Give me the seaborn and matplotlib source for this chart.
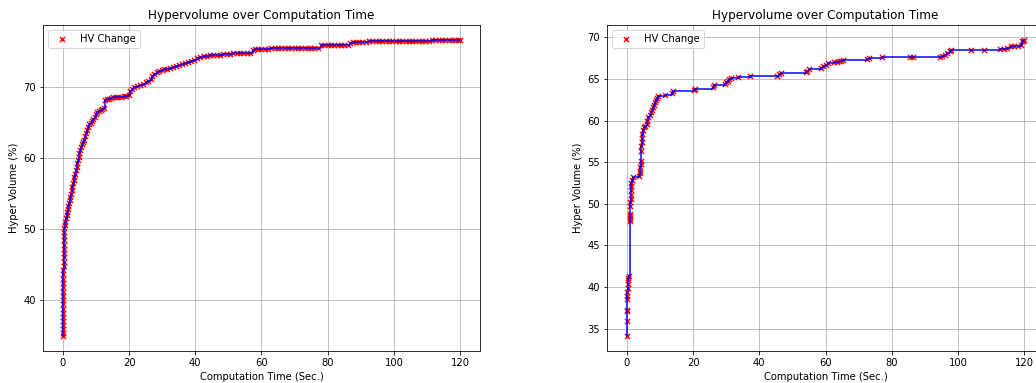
import pandas as pd
import seaborn as sns
import matplotlib.pyplot as plt

# run 1 (left panel): time in seconds, hypervolume in %
TIME_A = [0.00, 0.02, 0.03, 0.05, 0.06, 0.08, 0.09, 0.10, 0.11, 0.12,
          0.13, 0.14, 0.15, 0.16, 0.17, 0.18, 0.19, 0.20, 0.21, 0.22,
          0.24, 0.26, 0.28, 0.30, 0.33, 0.36, 0.40,
          0.5, 0.7, 0.9, 1.1, 1.3, 1.5, 1.7, 1.9, 2.1, 2.3, 2.5, 2.7, 2.9,
          3.1, 3.3, 3.5, 3.8, 4.0, 4.2, 4.4, 4.6, 4.8, 5.0, 5.3, 5.6, 5.9,
          6.2, 6.5, 6.8, 7.1, 7.4, 7.7, 8.0, 8.4, 8.8, 9.2, 9.6, 10.0,
          10.4, 10.9, 11.4, 11.9, 12.4, 12.7, 13.2, 13.8, 14.5, 15.2, 16.0,
          16.8, 17.6, 18.4, 19.2, 20.0, 20.4, 20.9, 21.5, 22.3, 23.2, 24.1,
          25.0, 25.8, 26.5, 27.0, 27.6, 28.3, 29.0, 29.8, 30.7, 31.6, 32.5,
          33.4, 34.3, 35.2, 36.1, 37.0, 37.9, 38.8, 39.7, 40.6, 41.5, 42.5,
          43.5, 44.5, 45.5, 46.5, 47.5, 48.5, 49.5, 50.5, 51.5, 52.5, 53.5,
          54.5, 55.5, 56.5, 57.3, 58.0, 59.0, 60.0, 61.0, 62.0, 63.0, 64.0,
          65.0, 66.0, 67.0, 68.0, 69.0, 70.0, 71.0, 72.0, 73.0, 74.0, 75.0,
          76.0, 77.0, 78.0, 79.0, 80.0, 81.0, 82.0, 83.0, 84.0, 85.0, 86.0,
          86.8, 87.6, 88.5, 89.5, 90.5, 91.5, 92.5, 93.5, 94.5, 95.5, 96.5,
          97.5, 98.5, 99.5, 100.5, 101.5, 102.5, 103.5, 104.5, 105.5, 106.5,
          107.5, 108.5, 109.5, 110.5, 111.5, 112.5, 113.5, 114.5, 115.5,
          116.5, 117.5, 118.5, 119.5, 120.0]
HV_A = [34.9, 35.4, 35.9, 36.5, 37.0, 37.6, 38.2, 38.8, 39.4, 40.0,
        40.6, 41.2, 41.8, 42.4, 43.0, 43.6, 44.2, 44.8, 45.4, 46.0,
        46.6, 47.2, 47.8, 48.4, 49.0, 49.6, 50.2,
        50.6, 51.0, 51.5, 52.0, 52.4, 52.9, 53.3, 53.7, 54.1, 54.5, 55.0, 55.5, 56.0,
        56.5, 56.9, 57.3, 57.8, 58.3, 58.8, 59.3, 59.8, 60.2, 60.7, 61.1, 61.6, 62.0,
        62.3, 62.6, 63.1, 63.6, 64.0, 64.4, 64.8, 65.0, 65.3, 65.5, 65.8, 66.2,
        66.5, 66.7, 66.8, 67.0, 67.1, 68.2, 68.3, 68.4, 68.5, 68.6, 68.6,
        68.7, 68.7, 68.8, 68.8, 68.9, 69.5, 69.8, 70.1, 70.2, 70.3, 70.5,
        70.7, 70.9, 71.2, 71.6, 71.9, 72.1, 72.3, 72.5, 72.6, 72.6, 72.7,
        72.9, 73.0, 73.1, 73.3, 73.4, 73.6, 73.7, 73.9, 74.1, 74.3, 74.4,
        74.4, 74.5, 74.5, 74.6, 74.6, 74.7, 74.7, 74.7, 74.8, 74.8, 74.8,
        74.8, 74.9, 74.9, 75.3, 75.4, 75.4, 75.4, 75.4, 75.4, 75.5, 75.5,
        75.5, 75.5, 75.5, 75.5, 75.5, 75.5, 75.5, 75.6, 75.6, 75.6, 75.6,
        75.6, 75.6, 75.9, 75.9, 75.9, 75.9, 76.0, 76.0, 76.0, 76.0, 76.0,
        76.3, 76.4, 76.4, 76.4, 76.4, 76.4, 76.5, 76.5, 76.5, 76.5, 76.5,
        76.5, 76.5, 76.5, 76.6, 76.6, 76.6, 76.6, 76.6, 76.6, 76.6,
        76.6, 76.6, 76.6, 76.6, 76.7, 76.7, 76.7, 76.7, 76.7,
        76.7, 76.7, 76.7, 76.7, 76.7]

# run 2 (right panel)
TIME_B = [0.0, 0.0, 0.0, 0.05, 0.1, 0.1, 0.15, 0.2, 0.25, 0.3, 0.35, 0.5,
          0.8, 0.8, 0.85, 0.9, 1.0, 1.05, 1.1, 1.15, 1.2, 1.3, 1.4, 1.6, 1.9,
          3.8, 3.9, 4.0, 4.1, 4.2, 4.3, 4.35, 4.4, 4.5, 4.6, 4.7, 4.8,
          5.2, 5.6, 6.0, 6.1, 6.3, 6.9, 7.2, 7.5, 7.8, 8.1, 8.4, 8.7, 9.0, 9.4,
          11.5, 13.6, 14.0, 20.3, 20.7, 26.0, 26.4, 29.5, 30.0, 30.5, 31.0, 31.4,
          33.6, 37.3, 45.5, 46.0, 46.5, 54.0, 54.5, 55.0, 58.5, 59.2, 60.0, 60.8,
          62.5, 63.5, 64.2, 64.8, 65.4, 72.6, 73.0, 77.0, 85.5, 86.3,
          94.5, 95.3, 96.0, 96.8, 97.5, 98.0, 104.0, 108.0, 112.8, 113.8, 114.8,
          116.0, 117.0, 118.0, 119.0, 119.4, 119.8, 120.0]
HV_B = [34.1, 35.9, 37.1, 37.3, 38.6, 38.9, 39.4, 39.9, 40.4, 40.8, 41.1, 41.3,
        47.9, 48.2, 48.5, 48.8, 49.7, 50.2, 50.6, 51.1, 51.6, 52.1, 52.5, 52.9, 53.2,
        53.4, 53.7, 54.0, 54.4, 54.8, 55.1, 56.4, 56.9, 57.4, 57.9, 58.4, 58.9,
        59.2, 59.3, 59.6, 60.0, 60.4, 60.7, 61.0, 61.3, 61.6, 61.9, 62.2, 62.5, 62.7, 62.9,
        63.1, 63.3, 63.5, 63.7, 63.8, 64.0, 64.3, 64.4, 64.6, 64.8, 65.0, 65.1,
        65.2, 65.3, 65.4, 65.6, 65.7, 65.8, 66.0, 66.2, 66.3, 66.5, 66.7, 66.9,
        67.0, 67.0, 67.1, 67.2, 67.3, 67.4, 67.5, 67.6, 67.6, 67.6,
        67.6, 67.7, 67.9, 68.1, 68.3, 68.5, 68.5, 68.5, 68.6, 68.6, 68.7,
        68.9, 69.0, 69.0, 69.1, 69.5, 69.6, 69.7]


def plot_run(ax, times, hv):
    data = pd.DataFrame({"time": times, "hv": hv})
    sns.scatterplot(x="time", y="hv", data=data, ax=ax, color="red",
                    marker="x", s=26, linewidth=1.4, label="HV Change", zorder=2)
    sns.lineplot(x="time", y="hv", data=data, ax=ax, color="blue",
                 drawstyle="steps-post", linewidth=1.5, estimator=None,
                 sort=False, zorder=3)
    ax.set_title("Hypervolume over Computation Time")
    ax.set_xlabel("Computation Time (Sec.)")
    ax.set_ylabel("Hyper Volume (%)")
    ax.grid(True)
    ax.legend(loc="upper left")


def main():
    fig = plt.figure(figsize=(1036 / 72, 383 / 72), dpi=72)
    ax1 = fig.add_axes([43 / 1036, 32 / 383, 437 / 1036, 326 / 383])
    ax2 = fig.add_axes([607 / 1036, 32 / 383, 437 / 1036, 326 / 383])

    plot_run(ax1, TIME_A, HV_A)
    plot_run(ax2, TIME_B, HV_B)

    fig.savefig("out.png", dpi=72)


if __name__ == '__main__':
    main()
